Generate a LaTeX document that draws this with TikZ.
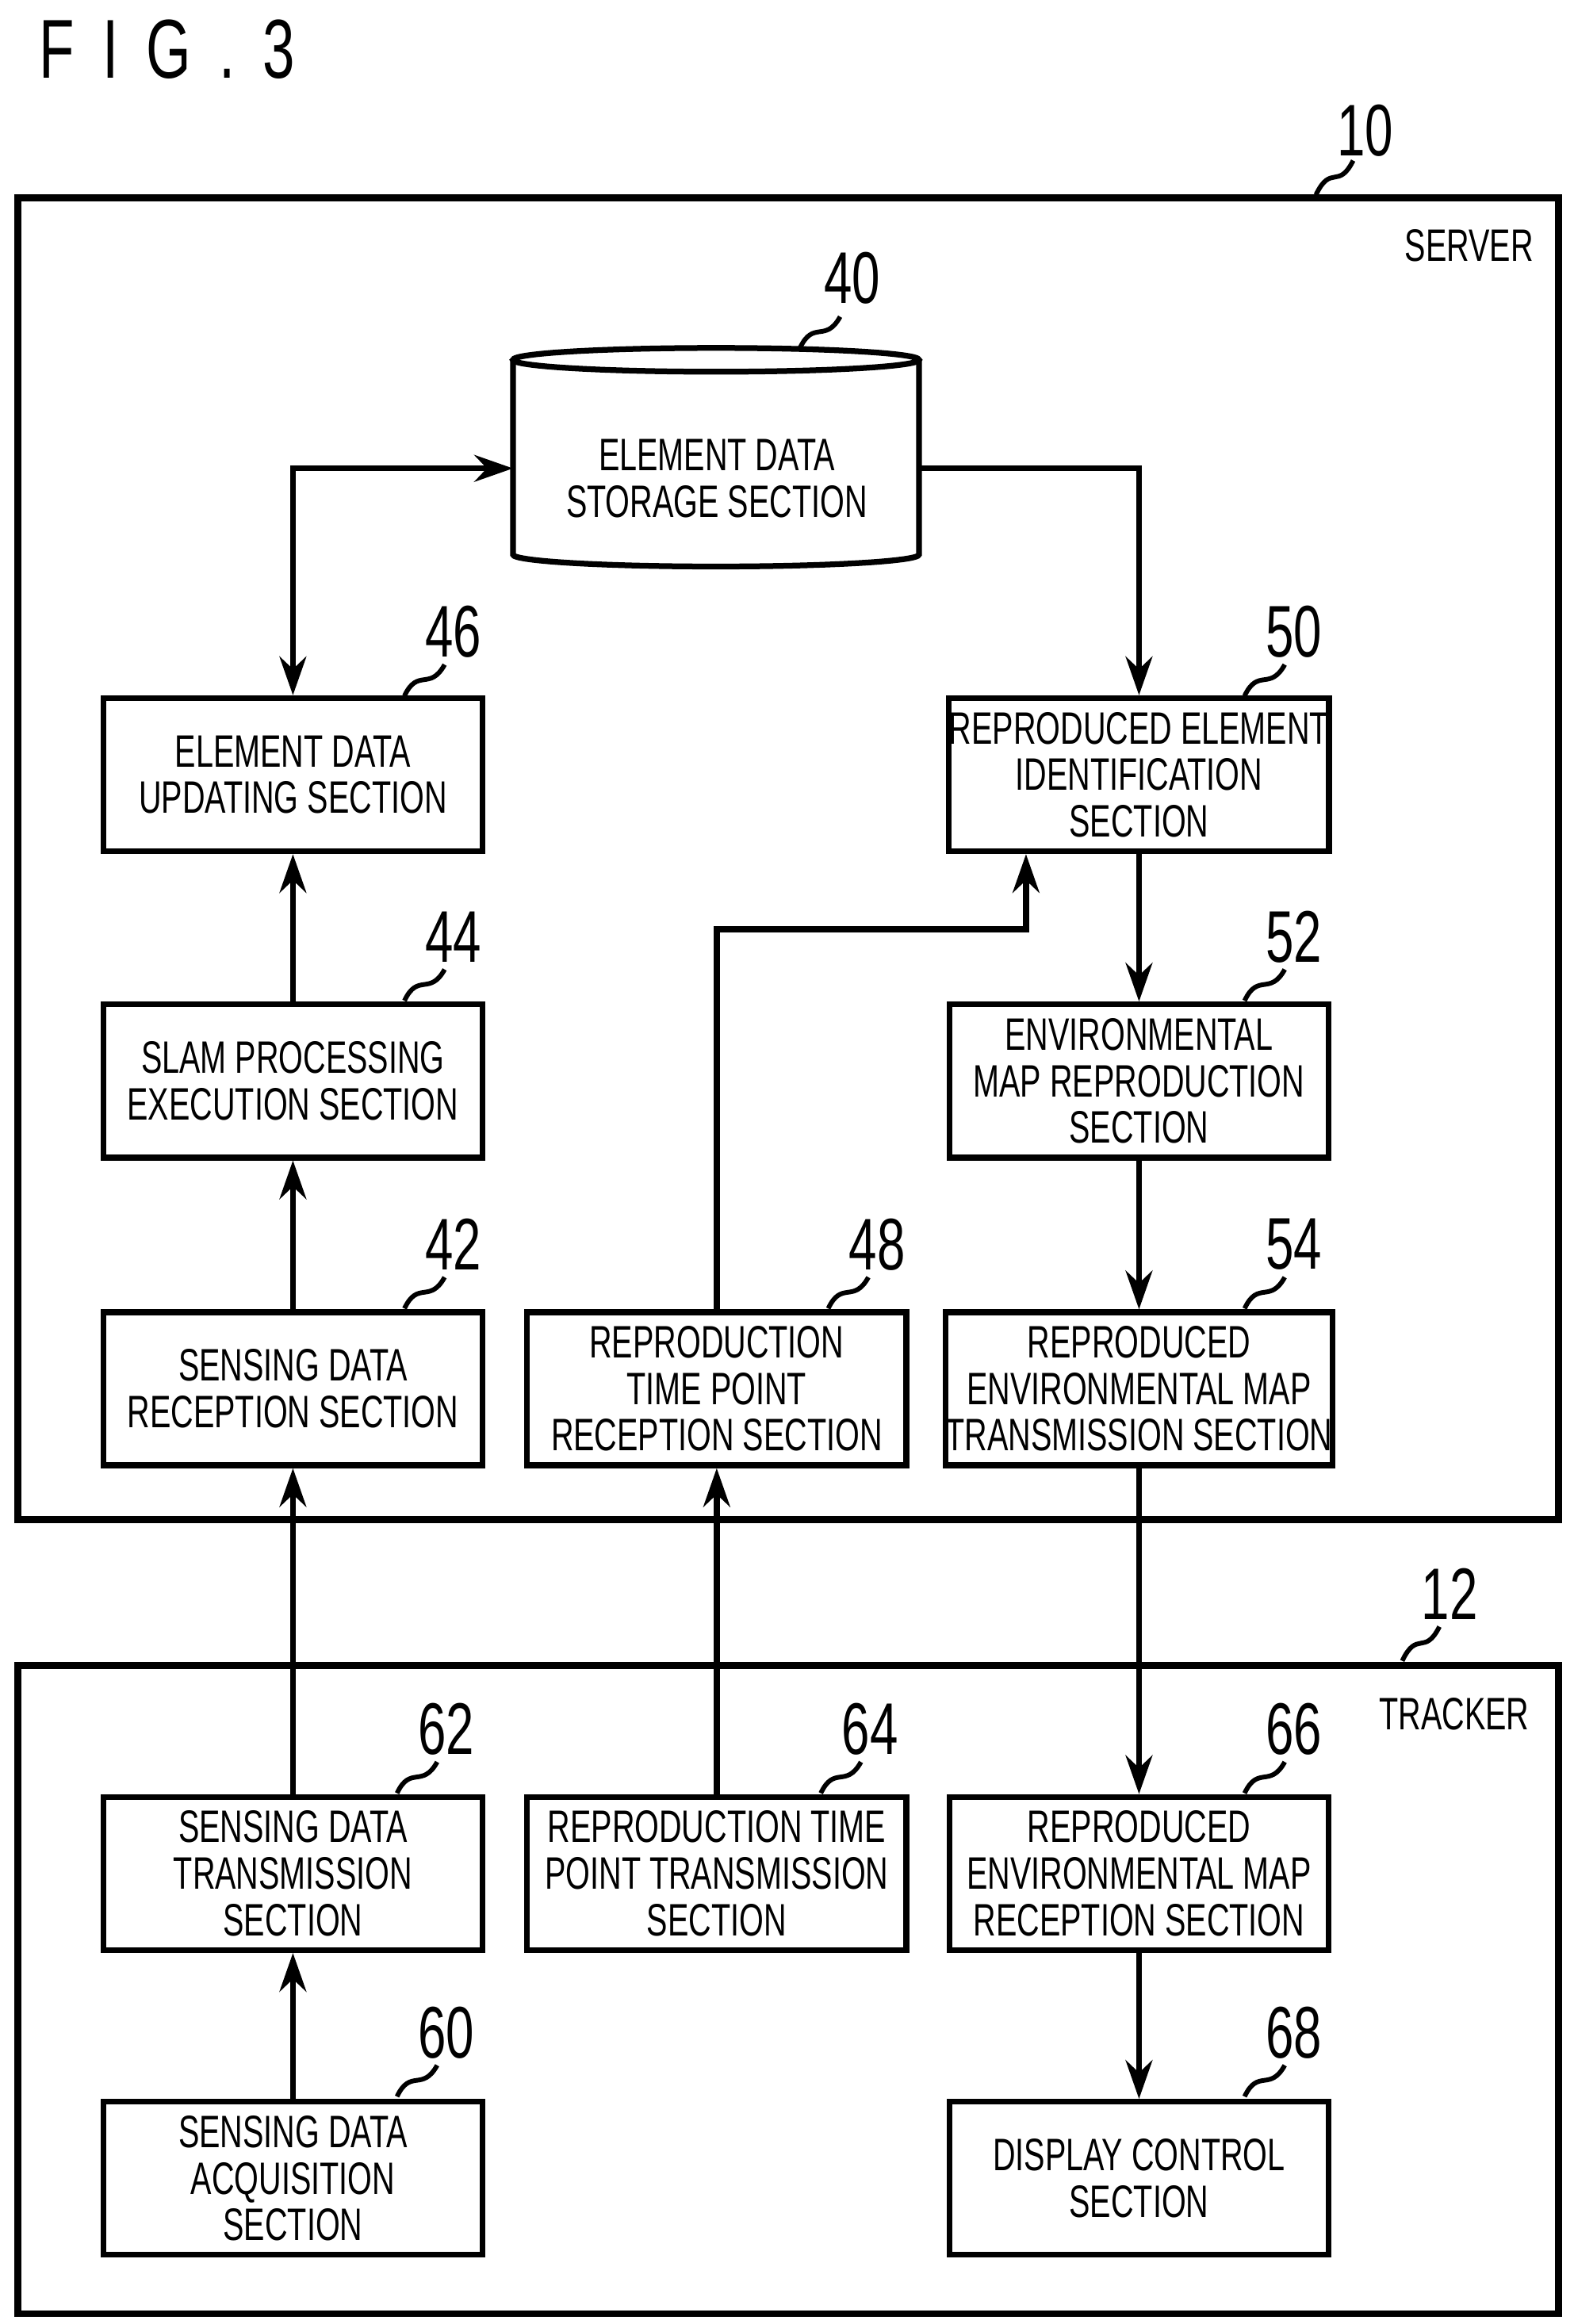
\documentclass[tikz,border=0pt]{standalone}
\usepackage{fontspec}
\setmainfont{Liberation Sans}[FakeStretch=0.69]
\usetikzlibrary{shapes.geometric,arrows.meta}
\begin{document}
\begin{tikzpicture}[x=0.1mm,y=-0.1mm,
  box/.style={draw,line width=1.1pt,minimum width=25.5mm,minimum height=10.3mm,align=center,inner xsep=0pt,inner ysep=1pt,font=\fontsize{8.7}{8.9}\selectfont},
  num/.style={font=\fontsize{14}{14}\selectfont},
  lbl/.style={font=\fontsize{8.7}{9}\selectfont},
  arr/.style={line width=1.1pt,-{Stealth[length=2.6mm,width=1.8mm]}},
  frame/.style={draw,line width=1.3pt}]
\useasboundingbox (0,0) rectangle (1058,1563);
\node[anchor=west,font=\fontsize{16}{16}\selectfont] (fig) at (14,33) {F\,\,I\,\,G\,\,.\,\,3};
% frames
\draw[frame] (12,133) rectangle (1048,1022);
\draw[frame] (12,1120) rectangle (1048,1556);
\node[num] (n10) at (918,88) {10};
\draw[line width=0.9pt] (885,131) .. controls (895,110) and (900,128) .. (910,108);
\node[lbl] (srv) at (988,165) {SERVER};
\node[num] (n12) at (975,1072) {12};
\draw[line width=0.9pt] (943,1117) .. controls (953,1096) and (958,1114) .. (968,1094);
\node[lbl] (trk) at (978,1153) {TRACKER};
% cylinder
\draw[line width=1.1pt] (345,242) -- (345,373) arc[start angle=180,end angle=0,x radius=136.5,y radius=8] -- (618,242);
\draw[line width=1.1pt] (481.5,242) ellipse[x radius=136.5,y radius=8];
\node[align=center,font=\fontsize{8.7}{8.9}\selectfont] (c40) at (482,322) {ELEMENT DATA\\STORAGE SECTION};
\coordinate (c40w) at (345,315);
\coordinate (c40e) at (618,315);
\node[num] (n40) at (573,187) {40};
% boxes
\node[box] (b46) at (197,521) {ELEMENT DATA\\UPDATING SECTION};
\node[box] (b44) at (197,727) {SLAM PROCESSING\\EXECUTION SECTION};
\node[box] (b42) at (197,934) {SENSING DATA\\RECEPTION SECTION};
\node[box] (b48) at (482,934) {REPRODUCTION\\TIME POINT\\RECEPTION SECTION};
\node[box] (b50) at (766,521) {REPRODUCED ELEMENT\\IDENTIFICATION\\SECTION};
\node[box] (b52) at (766,727) {ENVIRONMENTAL\\MAP REPRODUCTION\\SECTION};
\node[box] (b54) at (766,934) {REPRODUCED\\ENVIRONMENTAL MAP\\TRANSMISSION SECTION};
\node[box] (b62) at (197,1260) {SENSING DATA\\TRANSMISSION\\SECTION};
\node[box] (b64) at (482,1260) {REPRODUCTION TIME\\POINT TRANSMISSION\\SECTION};
\node[box] (b66) at (766,1260) {REPRODUCED\\ENVIRONMENTAL MAP\\RECEPTION SECTION};
\node[box] (b60) at (197,1465) {SENSING DATA\\ACQUISITION\\SECTION};
\node[box] (b68) at (766,1465) {DISPLAY CONTROL\\SECTION};
% numbers with squiggles
\foreach \n/\x/\y in {46/305/425, 44/305/630, 42/305/837, 48/590/837, 50/870/425, 52/870/630, 54/870/837, 62/300/1163, 64/585/1163, 66/870/1163, 60/300/1367, 68/870/1367}{
  \node[num] (n\n) at (\x,\y) {\n};
  \draw[line width=0.9pt] (\x-33,\y+43) .. controls (\x-24,\y+24) and (\x-16,\y+40) .. (\x-6,\y+22);
}
\draw[line width=0.9pt] (538,234) .. controls (547,215) and (555,231) .. (565,213);
% connectors
\coordinate (k1) at (197,315);
\draw[line width=1.1pt,{Stealth[length=2.6mm,width=1.8mm]}-{Stealth[length=2.6mm,width=1.8mm]}] (b46.north) -- (k1) -- (c40w);
\draw[arr] (c40e) -| (b50.north);
\draw[arr] (b44) -- (b46);
\draw[arr] (b42) -- (b44);
\draw[arr] (b50) -- (b52);
\draw[arr] (b52) -- (b54);
\coordinate (k2) at (482,625);
\coordinate (k3) at (690,625);
\draw[arr] (b48.north) -- (k2) -- (k3) -- (b50.south -| k3);
\draw[arr] (b62) -- (b42);
\draw[arr] (b64) -- (b48);
\draw[arr] (b54) -- (b66);
\draw[arr] (b60) -- (b62);
\draw[arr] (b66) -- (b68);
\end{tikzpicture}
\end{document}
